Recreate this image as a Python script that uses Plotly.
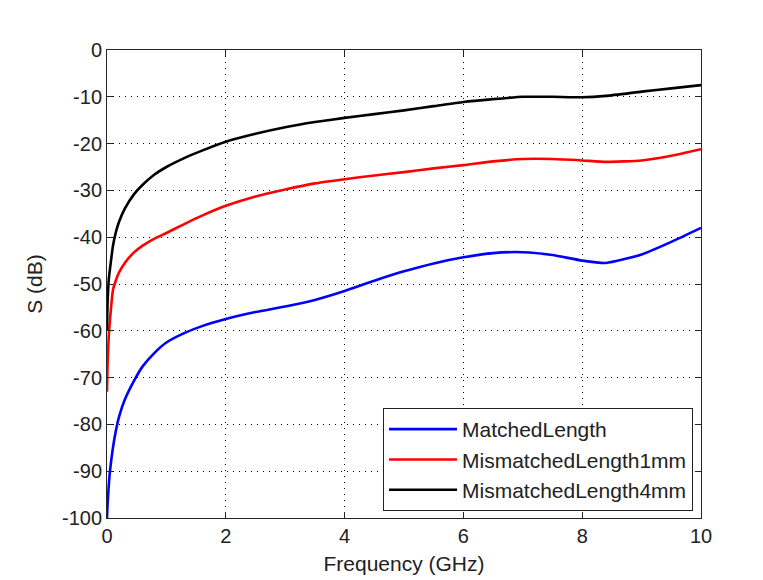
import plotly.graph_objects as go

freq = [0, 0.01, 0.03, 0.05, 0.1, 0.15, 0.2, 0.3, 0.45, 0.6, 0.8, 1.0, 1.3, 1.6, 2.0, 2.5,
        3.0, 3.5, 4.0, 4.5, 5.0, 5.5, 6.0, 6.5, 7.0, 7.5, 8.0, 8.4, 9.0, 9.5, 10.0]

matched = [-100, -97, -93, -90, -85, -81.3, -78.5, -74.7, -70.8, -67.6, -64.7, -62.5, -60.5, -59, -57.5, -56,
           -54.8, -53.4, -51.5, -49.3, -47.3, -45.6, -44.3, -43.4, -43.2, -43.8, -45.0, -45.5, -43.7, -41, -38]

mismatched1 = [-73, -67, -61, -57.7, -51.3, -49.2, -47.6, -45.5, -43.3, -41.8, -40.3, -39.1, -37.2, -35.4, -33.3, -31.3,
               -29.8, -28.5, -27.6, -26.8, -26.1, -25.3, -24.6, -23.8, -23.3, -23.3, -23.6, -23.9, -23.6, -22.6, -21.2]

mismatched4 = [-60, -54, -49, -46.8, -41.9, -38.9, -36.8, -33.9, -30.9, -28.8, -26.6, -25, -23.1, -21.5, -19.6, -17.9,
               -16.5, -15.4, -14.5, -13.7, -12.9, -12, -11.1, -10.5, -10, -10, -10.1, -9.8, -8.9, -8.2, -7.5]

series_names = ["MatchedLength", "MismatchedLength1mm", "MismatchedLength4mm"]
series_colors = ["#0000ff", "#ff0000", "#000000"]
series_values = [matched, mismatched1, mismatched4]

x_ticks = [0, 2, 4, 6, 8, 10]
y_ticks = [0, -10, -20, -30, -40, -50, -60, -70, -80, -90, -100]

FONT = "Liberation Sans, Arial, Helvetica, sans-serif"
FS = 20
FS2 = 21

fig = go.Figure()
for name, color, vals in zip(series_names, series_colors, series_values):
    fig.add_trace(go.Scatter(x=freq, y=vals, mode="lines", name=name,
                             line=dict(color=color, width=2.6, shape="spline", smoothing=0.5)))

axis_common = dict(
    showline=True, linecolor="#262626", linewidth=1, mirror="ticks",
    ticks="inside", ticklen=6, tickcolor="#262626",
    showgrid=True, gridcolor="#000000", gridwidth=1, griddash="1px,5px",
    zeroline=False, automargin=False,
    tickfont=dict(size=FS, color="#222222", family=FONT),
)

fig.update_xaxes(range=[0, 10], tickvals=x_ticks, ticktext=[str(v) for v in x_ticks],
                 title=dict(text="Frequency (GHz)", font=dict(size=FS2, color="#222222", family=FONT), standoff=10),
                 **axis_common)
fig.update_yaxes(range=[-100, 0], tickvals=y_ticks, ticktext=[str(v) for v in y_ticks],
                 title=dict(text="S (dB)", font=dict(size=FS2, color="#222222", family=FONT), standoff=13),
                 **axis_common)

fig.update_layout(
    width=755, height=572,
    margin=dict(l=99, r=62, t=42, b=62),
    paper_bgcolor="white", plot_bgcolor="white",
    font=dict(family=FONT, size=FS, color="#222222"),
    showlegend=True,
    legend=dict(x=0.9865, y=0.015, xanchor="right", yanchor="bottom",
                bgcolor="white", bordercolor="#222222", borderwidth=1,
                font=dict(size=FS2, family=FONT, color="#222222"),
                tracegroupgap=0, itemwidth=68),
)

fig.write_html("out.html")
